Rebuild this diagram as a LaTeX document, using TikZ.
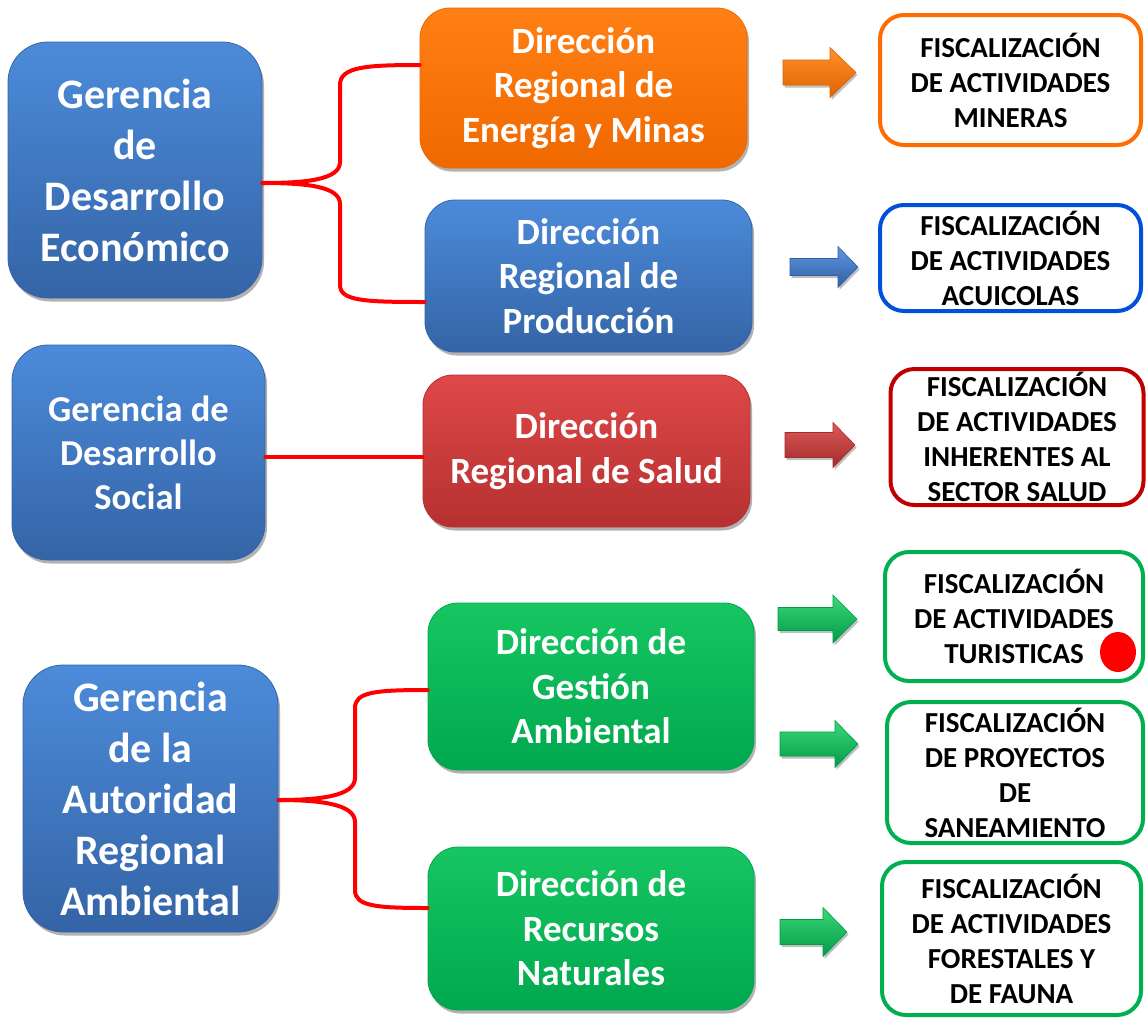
\documentclass[tikz,border=0pt]{standalone}
\usepackage{fontspec}
\setmainfont{Carlito}
\usetikzlibrary{shadows}
\definecolor{bluetop}{RGB}{76,139,218}
\definecolor{bluebot}{RGB}{52,100,166}
\definecolor{orangetop}{RGB}{255,128,20}
\definecolor{orangebot}{RGB}{240,104,0}
\definecolor{redtop}{RGB}{222,72,72}
\definecolor{redbot}{RGB}{182,48,48}
\definecolor{greentop}{RGB}{22,198,98}
\definecolor{greenbot}{RGB}{0,168,78}
\definecolor{aorangetop}{RGB}{255,145,45}
\definecolor{aorangebot}{RGB}{225,98,0}
\definecolor{abluetop}{RGB}{95,150,225}
\definecolor{abluebot}{RGB}{48,95,165}
\definecolor{aredtop}{RGB}{220,90,90}
\definecolor{aredbot}{RGB}{165,42,42}
\definecolor{agreentop}{RGB}{60,215,120}
\definecolor{agreenbot}{RGB}{0,155,70}
\definecolor{forange}{RGB}{255,108,0}
\definecolor{fblue}{RGB}{0,80,220}
\definecolor{fred}{RGB}{192,0,0}
\definecolor{fgreen}{RGB}{0,176,80}
\newcommand\fatarr[7]{%
  \shade[top color=#7top, bottom color=#7bot, draw=#7bot, line width=0.6pt,
    drop shadow={shadow xshift=1.5pt, shadow yshift=-2.5pt, opacity=0.25, fill=black}]
    (#1,#2-#5) -- (#3,#2-#5) -- (#3,#2-#6) -- (#4,#2) -- (#3,#2+#6) -- (#3,#2+#5) -- (#1,#2+#5) -- cycle;}
\begin{document}
\begin{tikzpicture}[x=1pt,y=-1pt,
  cbox/.style={rounded corners=30pt, inner sep=0pt, align=center, text=white,
    drop shadow={shadow xshift=2pt, shadow yshift=-3.5pt, opacity=0.3, fill=black}},
  gfont/.style={font=\bfseries\fontsize{42}{51}\selectfont},
  dfont/.style={font=\bfseries\fontsize{37}{44.5}\selectfont},
  blueg/.style={top color=bluetop, bottom color=bluebot, draw=bluebot, line width=0.8pt},
  orangeg/.style={top color=orangetop, bottom color=orangebot, draw=orangebot, line width=0.8pt},
  redg/.style={top color=redtop, bottom color=redbot, draw=redbot, line width=0.8pt},
  greeng/.style={top color=greentop, bottom color=greenbot, draw=greenbot, line width=0.8pt},
  fbox/.style={rounded corners=24pt, inner sep=0pt, align=center, fill=white, line width=4pt,
    text=black, font=\bfseries\fontsize{29}{35}\selectfont},
  link/.style={draw=red, line width=4pt, line cap=round, line join=round}]
\useasboundingbox[fill=white] (0,0) rectangle (1146,1018);

% Gerencias
\node[cbox, blueg, gfont, rounded corners=40pt, minimum width=254pt, minimum height=256pt] (G1) at (135,170) {Gerencia\\de\\Desarrollo\\Económico};
\node[cbox, blueg, font=\bfseries\fontsize{36.5}{44}\selectfont, rounded corners=36pt, minimum width=253pt, minimum height=215pt] (G2) at (138.5,452.5) {Gerencia de\\Desarrollo\\Social};
\node[cbox, blueg, gfont, rounded corners=40pt, minimum width=255pt, minimum height=267pt] (G3) at (150.5,798.5) {Gerencia\\de la\\Autoridad\\Regional\\Ambiental};

% Direcciones
\node[cbox, orangeg, dfont, minimum width=327pt, minimum height=160pt] (D1) at (583.5,88) {Dirección\\Regional de\\Energía y Minas};
\node[cbox, blueg, dfont, minimum width=327pt, minimum height=152pt] (D2) at (588.5,276) {Dirección\\Regional de\\Producción};
\node[cbox, redg, dfont, minimum width=327pt, minimum height=152pt] (D3) at (586.5,451) {Dirección\\Regional de Salud};
\node[cbox, greeng, dfont, minimum width=326pt, minimum height=167pt] (D4) at (591,686.5) {Dirección de\\Gestión\\Ambiental};
\node[cbox, greeng, dfont, minimum width=326pt, minimum height=163pt] (D5) at (591,928.5) {Dirección de\\Recursos\\Naturales};

% Fiscalizacion
\node[fbox, draw=forange, minimum width=261pt, minimum height=130pt] (F1) at (1010.5,80) {FISCALIZACIÓN\\DE ACTIVIDADES\\MINERAS};
\node[fbox, draw=fblue, minimum width=261pt, minimum height=106pt] (F2) at (1010.5,258) {FISCALIZACIÓN\\DE ACTIVIDADES\\ACUICOLAS};
\node[fbox, draw=fred, minimum width=253pt, minimum height=136pt] (F3) at (1017,437) {FISCALIZACIÓN\\DE ACTIVIDADES\\INHERENTES AL\\SECTOR SALUD};
\node[fbox, draw=fgreen, minimum width=258pt, minimum height=129pt] (F4) at (1014,616.5) {FISCALIZACIÓN\\DE ACTIVIDADES\\TURISTICAS};
\node[fbox, draw=fgreen, minimum width=256pt, minimum height=141pt] (F5) at (1015,772.5) {FISCALIZACIÓN\\DE PROYECTOS\\DE\\SANEAMIENTO};
\node[fbox, draw=fgreen, minimum width=259pt, minimum height=153pt] (F6) at (1011.5,938.5) {FISCALIZACIÓN\\DE ACTIVIDADES\\FORESTALES Y\\DE FAUNA};

% red dot
\fill[red] (1118,652) ellipse [x radius=18pt, y radius=20pt];

% arrows
\fatarr{783}{72.5}{830}{856}{12.5}{25}{aorange}
\fatarr{790}{267}{838}{858}{8.5}{20.5}{ablue}
\fatarr{785}{445}{833}{855}{12.5}{22.5}{ared}
\fatarr{778}{619}{833}{857}{11.5}{24}{agreen}
\fatarr{780}{744}{835}{858}{12}{23.5}{agreen}
\fatarr{780}{932}{823}{847}{12.5}{24.5}{agreen}

% braces
\draw[link] ([yshift=23pt]D1.west) .. controls (365,65) and (340,67) .. (340,85) -- (340,162)
  .. controls (340,180) and (305,183) .. ([yshift=-13pt]G1.east);
\draw[link] ([yshift=-13pt]G1.east) .. controls (305,183) and (340,186) .. (340,204) -- (340,285)
  .. controls (340,301) and (365,302) .. ([yshift=-26pt]D2.west);
\draw[link] ([yshift=-4.5pt]G2.east) -- ([yshift=-6pt]D3.west);
\draw[link] ([yshift=-3.5pt]D4.west) .. controls (375,690) and (355,692) .. (355,708) -- (355,778)
  .. controls (355,796) and (320,800) .. ([yshift=-1.5pt]G3.east);
\draw[link] ([yshift=-1.5pt]G3.east) .. controls (320,800) and (355,804) .. (355,822) -- (355,890)
  .. controls (355,906) and (375,908) .. ([yshift=20.5pt]D5.west);
\end{tikzpicture}
\end{document}
